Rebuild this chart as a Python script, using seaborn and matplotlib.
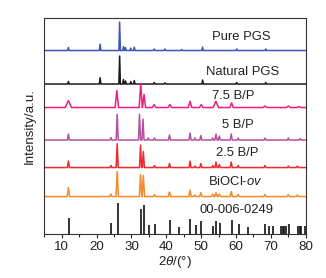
import matplotlib
matplotlib.use('Agg')
import matplotlib.pyplot as plt
import pandas as pd
import seaborn as sns

# Picos: posicao (2theta), altura acima da linha de base
pure_base = 183.5
pure_pos = [11.9, 21.0, 26.6, 27.7, 28.3, 29.8, 30.8, 36.5, 39.6, 44.4, 50.4, 60.2, 68.5]
pure_h = [3.0, 6.4, 28.4, 4.0, 3.0, 2.4, 3.4, 1.5, 1.5, 1.0, 3.4, 1.5, 1.5]

nat_base = 150.0
nat_pos = [11.9, 21.0, 26.6, 27.7, 28.3, 29.8, 30.8, 36.5, 39.6, 50.4, 60.2, 68.5]
nat_h = [2.5, 6.3, 28.0, 4.5, 3.0, 2.5, 3.5, 1.5, 1.2, 4.0, 1.5, 1.5]

bp75_base = 126.5
bp75_pos = [11.9, 25.8, 32.65, 33.6, 36.5, 41.0, 46.8, 50.0, 54.2, 58.7, 68.3, 75.0, 78.0]
bp75_h = [7.0, 17.0, 23.7, 13.0, 3.0, 3.0, 6.3, 3.0, 6.3, 4.7, 1.5, 1.5, 1.0]
bp75_w = [0.9, 0.5, 0.45, 0.45, 0.5, 0.5, 0.5, 0.5, 0.8, 0.5, 0.6, 0.6, 0.6]

bp5_base = 94.0
bp5_pos = [11.9, 24.1, 25.9, 32.3, 33.3, 34.8, 36.6, 40.9, 46.8, 48.2, 49.9, 53.3, 54.25, 55.2, 58.6, 60.6, 68.3, 75.0, 78.4]
bp5_h = [6.0, 2.5, 25.7, 25.7, 21.0, 2.0, 2.0, 5.0, 7.0, 2.0, 4.5, 2.0, 6.0, 4.0, 6.0, 2.0, 2.0, 2.0, 1.5]

bp25_base = 66.5
bp25_pos = [11.9, 24.1, 25.9, 32.6, 33.4, 36.6, 40.9, 46.8, 48.2, 49.9, 53.3, 54.25, 55.2, 58.6, 60.6, 68.3, 75.0, 77.6]
bp25_h = [6.5, 2.0, 24.0, 22.5, 16.0, 2.0, 4.0, 6.5, 1.5, 4.0, 2.0, 5.5, 3.0, 5.5, 2.0, 2.0, 1.5, 1.5]

ov_base = 37.5
ov_pos = [11.9, 24.1, 25.9, 32.6, 33.4, 36.6, 40.9, 46.8, 48.2, 49.9, 53.3, 54.25, 55.2, 58.6, 60.6, 68.3, 75.0, 77.6]
ov_h = [9.0, 2.5, 25.0, 22.0, 21.0, 2.0, 4.5, 6.5, 1.5, 4.0, 2.5, 4.0, 2.5, 5.0, 2.0, 2.0, 2.0, 1.5]

# Padrao de referencia 00-006-0249 (barras)
ref_pos = [12.08, 24.1, 26.05, 32.7, 33.6, 35.0, 36.76, 41.1, 43.7, 46.8, 48.5, 49.9, 53.3, 54.25,
           55.4, 58.75, 60.75, 63.35, 68.3, 69.5, 70.7, 72.9, 73.4, 73.8, 74.3, 75.1, 77.7, 78.2, 78.6, 79.9]
ref_h = [16.0, 10.6, 30.6, 24.6, 29.3, 9.0, 9.6, 14.0, 7.3, 15.0, 9.3, 12.6, 8.3, 12.6,
         11.0, 14.0, 9.6, 7.0, 9.6, 7.6, 7.6, 7.6, 7.6, 7.6, 7.6, 10.0, 8.3, 8.3, 8.3, 7.6]

series_names = ['Pure PGS', 'Natural PGS', '7.5 B/P', '5 B/P', '2.5 B/P', 'BiOCl-ov']
cores = ['#3d56b2', '#1a1a1a', '#ec1f7e', '#b4509f', '#ee2a2c', '#f5892c']


def monta_curva(nome, base, pos, alt, larg):
    # linha de base com um triangulo em cada pico
    xs = [5.0]
    ys = [base]
    for p, h, w in zip(pos, alt, larg):
        xs += [p - w, p, p + w]
        ys += [base, base + h, base]
    xs.append(80.0)
    ys.append(base)
    return pd.DataFrame({'x': xs, 'y': ys, 'amostra': nome})


dados = pd.concat([
    monta_curva('Pure PGS', pure_base, pure_pos, pure_h, [0.22] * len(pure_pos)),
    monta_curva('Natural PGS', nat_base, nat_pos, nat_h, [0.22] * len(nat_pos)),
    monta_curva('7.5 B/P', bp75_base, bp75_pos, bp75_h, bp75_w),
    monta_curva('5 B/P', bp5_base, bp5_pos, bp5_h, [0.3] * len(bp5_pos)),
    monta_curva('2.5 B/P', bp25_base, bp25_pos, bp25_h, [0.3] * len(bp25_pos)),
    monta_curva('BiOCl-ov', ov_base, ov_pos, ov_h, [0.35] * len(ov_pos)),
], ignore_index=True)

sns.set_style('ticks')
plt.rcParams['font.family'] = ['Liberation Sans', 'DejaVu Sans']
plt.rcParams['mathtext.fontset'] = 'custom'
plt.rcParams['mathtext.rm'] = 'Liberation Sans'
plt.rcParams['mathtext.it'] = 'Liberation Sans:italic'

fig = plt.figure(figsize=(3.26, 2.78), dpi=100)
ax = fig.add_axes([0.136, 0.158, 0.802, 0.779])

sns.lineplot(data=dados, x='x', y='y', hue='amostra', palette=dict(zip(series_names, cores)),
             estimator=None, sort=False, linewidth=1.1, legend=False, ax=ax)
ax.vlines(ref_pos, 0, ref_h, color='#111111', linewidth=1.2)

# rotulos das curvas
ax.text(61.6, 197, 'Pure PGS', ha='center', va='center', fontsize=9.4, color='#222222')
ax.text(61.9, 162.3, 'Natural PGS', ha='center', va='center', fontsize=9.4, color='#222222')
ax.text(59.2, 138, '7.5 B/P', ha='center', va='center', fontsize=9.4, color='#222222')
ax.text(60.6, 109, '5 B/P', ha='center', va='center', fontsize=9.4, color='#222222')
ax.text(60.2, 80.7, '2.5 B/P', ha='center', va='center', fontsize=9.4, color='#222222')
ax.text(59.7, 52.3, 'BiOCl-$\\mathit{ov}$', ha='center', va='center', fontsize=9.4, color='#222222')
ax.text(60.2, 24, '00-006-0249', ha='center', va='center', fontsize=9.4, color='#222222')

ax.set_xlim(5, 80)
ax.set_ylim(0, 216.5)
ax.set_xticks([10, 20, 30, 40, 50, 60, 70, 80])
ax.set_xticks([5, 15, 25, 35, 45, 55, 65, 75], minor=True)
ax.set_yticks([])
ax.tick_params(axis='x', which='major', length=3, width=0.8, labelsize=9.6, pad=2,
               labelcolor='#222222')
ax.tick_params(axis='x', which='minor', length=2, width=0.8)
for s in ax.spines.values():
    s.set_linewidth(0.8)
    s.set_color('#333333')
ax.set_xlabel('2$\\mathit{\\theta}$/(°)', fontsize=9.6, labelpad=1, color='#222222')
ax.set_ylabel('Intensity/a.u.', fontsize=9.6, labelpad=6, color='#222222')

fig.savefig('out.png', dpi=100)
